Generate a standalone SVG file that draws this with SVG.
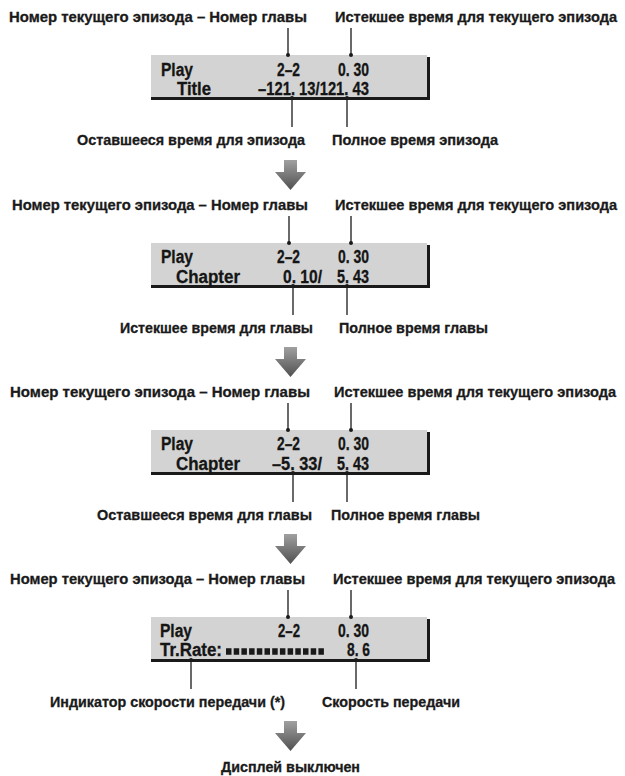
<svg xmlns="http://www.w3.org/2000/svg" width="625" height="776" viewBox="0 0 625 776">
<style>
.lbl{font-family:"Liberation Sans",Arial,sans-serif;font-weight:bold;font-size:14.5px;fill:#1a1a1a;stroke:#1a1a1a;stroke-width:0.3}
.lcd{font-family:"Liberation Sans",Arial,sans-serif;font-weight:bold;font-size:18px;fill:#151515;stroke:#151515;stroke-width:0.3}
.panel{fill:#d3d3d3}
.shadow{fill:none;stroke:#1a1a1a;stroke-width:3}
.lead{stroke:#1a1a1a;stroke-width:1.3}
.dot{fill:#1a1a1a}
.bar{stroke:#1a1a1a;stroke-width:6.5;stroke-dasharray:5.5 2.2}
</style>
<defs>
<linearGradient id="ag" x1="0" y1="0" x2="0" y2="1">
<stop offset="0" stop-color="#a0a0a0"/>
<stop offset="1" stop-color="#505050"/>
</linearGradient>
<path id="arrow" d="M284,0 H297 V12 H306 L290.5,30 L275,12 H284 Z" fill="url(#ag)"/>
</defs>

<!-- Panel 1 -->
<g id="panel1">
<rect class="panel" x="151" y="55" width="276" height="42"/>
<path class="shadow" d="M151,98.5 H428.5 V57"/>
<text class="lcd" x="161" y="75.5" textLength="32" lengthAdjust="spacingAndGlyphs">Play</text>
<text class="lcd" x="277" y="75.5" textLength="23" lengthAdjust="spacingAndGlyphs">2–2</text>
<text class="lcd" x="338" y="75.5" textLength="31" lengthAdjust="spacingAndGlyphs">0. 30</text>
<text class="lcd" x="177" y="95" textLength="34" lengthAdjust="spacingAndGlyphs">Title</text>
<text class="lcd" x="258" y="95" textLength="111" lengthAdjust="spacingAndGlyphs">–121. 13/121. 43</text>
</g>
<g id="label1a"><text class="lbl" x="9" y="22" textLength="298" lengthAdjust="spacingAndGlyphs">Номер текущего эпизода – Номер главы</text></g>
<g id="label1b"><text class="lbl" x="335" y="22" textLength="282" lengthAdjust="spacingAndGlyphs">Истекшее время для текущего эпизода</text></g>
<g id="label1c"><text class="lbl" x="77" y="145" textLength="228" lengthAdjust="spacingAndGlyphs">Оставшееся время для эпизода</text></g>
<g id="label1d"><text class="lbl" x="332" y="145" textLength="166" lengthAdjust="spacingAndGlyphs">Полное время эпизода</text></g>

<!-- Panel 2 -->
<g id="panel2">
<rect class="panel" x="151" y="243" width="276" height="42"/>
<path class="shadow" d="M151,286.5 H428.5 V245"/>
<text class="lcd" x="161" y="263" textLength="32" lengthAdjust="spacingAndGlyphs">Play</text>
<text class="lcd" x="277" y="263" textLength="23" lengthAdjust="spacingAndGlyphs">2–2</text>
<text class="lcd" x="338" y="263" textLength="31" lengthAdjust="spacingAndGlyphs">0. 30</text>
<text class="lcd" x="176" y="282.5" textLength="64" lengthAdjust="spacingAndGlyphs">Chapter</text>
<text class="lcd" x="283" y="282.5" textLength="39" lengthAdjust="spacingAndGlyphs">0. 10/</text>
<text class="lcd" x="337" y="282.5" textLength="32" lengthAdjust="spacingAndGlyphs">5. 43</text>
</g>
<g id="label2a"><text class="lbl" x="12" y="210" textLength="296" lengthAdjust="spacingAndGlyphs">Номер текущего эпизода – Номер главы</text></g>
<g id="label2b"><text class="lbl" x="335" y="210" textLength="282" lengthAdjust="spacingAndGlyphs">Истекшее время для текущего эпизода</text></g>
<g id="label2c"><text class="lbl" x="120" y="333" textLength="193" lengthAdjust="spacingAndGlyphs">Истекшее время для главы</text></g>
<g id="label2d"><text class="lbl" x="339" y="333" textLength="149" lengthAdjust="spacingAndGlyphs">Полное время главы</text></g>

<!-- Panel 3 -->
<g id="panel3">
<rect class="panel" x="151" y="430" width="276" height="42"/>
<path class="shadow" d="M151,473.5 H428.5 V432"/>
<text class="lcd" x="161" y="450" textLength="32" lengthAdjust="spacingAndGlyphs">Play</text>
<text class="lcd" x="277" y="450" textLength="23" lengthAdjust="spacingAndGlyphs">2–2</text>
<text class="lcd" x="338" y="450" textLength="31" lengthAdjust="spacingAndGlyphs">0. 30</text>
<text class="lcd" x="176" y="469.5" textLength="64" lengthAdjust="spacingAndGlyphs">Chapter</text>
<text class="lcd" x="272" y="469.5" textLength="50" lengthAdjust="spacingAndGlyphs">–5. 33/</text>
<text class="lcd" x="337" y="469.5" textLength="32" lengthAdjust="spacingAndGlyphs">5. 43</text>
</g>
<g id="label3a"><text class="lbl" x="10" y="397" textLength="300" lengthAdjust="spacingAndGlyphs">Номер текущего эпизода – Номер главы</text></g>
<g id="label3b"><text class="lbl" x="334" y="397" textLength="282" lengthAdjust="spacingAndGlyphs">Истекшее время для текущего эпизода</text></g>
<g id="label3c"><text class="lbl" x="97" y="520" textLength="215" lengthAdjust="spacingAndGlyphs">Оставшееся время для главы</text></g>
<g id="label3d"><text class="lbl" x="331" y="520" textLength="149" lengthAdjust="spacingAndGlyphs">Полное время главы</text></g>

<!-- Panel 4 -->
<g id="panel4">
<rect class="panel" x="151" y="617" width="276" height="42"/>
<path class="shadow" d="M151,660.5 H428.5 V619"/>
<text class="lcd" x="160" y="637" textLength="32" lengthAdjust="spacingAndGlyphs">Play</text>
<text class="lcd" x="278" y="637" textLength="22" lengthAdjust="spacingAndGlyphs">2–2</text>
<text class="lcd" x="338" y="637" textLength="31" lengthAdjust="spacingAndGlyphs">0. 30</text>
<text class="lcd" x="160" y="656" textLength="62" lengthAdjust="spacingAndGlyphs">Tr.Rate:</text>
<line class="bar" x1="226" y1="651.5" x2="326" y2="651.5"/>
<text class="lcd" x="347" y="656" textLength="23" lengthAdjust="spacingAndGlyphs">8. 6</text>
</g>
<g id="label4a"><text class="lbl" x="10" y="584" textLength="295" lengthAdjust="spacingAndGlyphs">Номер текущего эпизода – Номер главы</text></g>
<g id="label4b"><text class="lbl" x="333" y="584" textLength="282" lengthAdjust="spacingAndGlyphs">Истекшее время для текущего эпизода</text></g>
<g id="label4c"><text class="lbl" x="50" y="707" textLength="235" lengthAdjust="spacingAndGlyphs">Индикатор скорости передачи (*)</text></g>
<g id="label4d"><text class="lbl" x="322" y="707" textLength="138" lengthAdjust="spacingAndGlyphs">Скорость передачи</text></g>

<g id="label5"><text class="lbl" x="221" y="772" textLength="139" lengthAdjust="spacingAndGlyphs">Дисплей выключен</text></g>

<!-- Connectors -->
<g id="connectors">
<line class="lead" x1="288" y1="28" x2="288" y2="55"/><circle class="dot" cx="288" cy="55" r="2"/>
<line class="lead" x1="351" y1="28" x2="351" y2="55"/><circle class="dot" cx="351" cy="55" r="2"/>
<line class="lead" x1="292" y1="98" x2="292" y2="127"/><circle class="dot" cx="292" cy="98" r="2"/>
<line class="lead" x1="347" y1="98" x2="347" y2="127"/><circle class="dot" cx="347" cy="98" r="2"/>

<line class="lead" x1="289" y1="216" x2="289" y2="243"/><circle class="dot" cx="289" cy="243" r="2"/>
<line class="lead" x1="351" y1="216" x2="351" y2="243"/><circle class="dot" cx="351" cy="243" r="2"/>
<line class="lead" x1="293" y1="286" x2="293" y2="315"/><circle class="dot" cx="293" cy="286" r="2"/>
<line class="lead" x1="347" y1="286" x2="347" y2="315"/><circle class="dot" cx="347" cy="286" r="2"/>

<line class="lead" x1="288" y1="403" x2="288" y2="430"/><circle class="dot" cx="288" cy="430" r="2"/>
<line class="lead" x1="351" y1="403" x2="351" y2="430"/><circle class="dot" cx="351" cy="430" r="2"/>
<line class="lead" x1="293" y1="473" x2="293" y2="502"/><circle class="dot" cx="293" cy="473" r="2"/>
<line class="lead" x1="347" y1="473" x2="347" y2="502"/><circle class="dot" cx="347" cy="473" r="2"/>

<line class="lead" x1="288" y1="590" x2="288" y2="617"/><circle class="dot" cx="288" cy="617" r="2"/>
<line class="lead" x1="351" y1="590" x2="351" y2="617"/><circle class="dot" cx="351" cy="617" r="2"/>
<line class="lead" x1="191" y1="660" x2="191" y2="689"/><circle class="dot" cx="191" cy="660" r="2"/>
<line class="lead" x1="356" y1="660" x2="356" y2="689"/><circle class="dot" cx="356" cy="660" r="2"/>

<use href="#arrow" y="160"/>
<use href="#arrow" y="347"/>
<use href="#arrow" y="534"/>
<use href="#arrow" y="721"/>
</g>
</svg>
